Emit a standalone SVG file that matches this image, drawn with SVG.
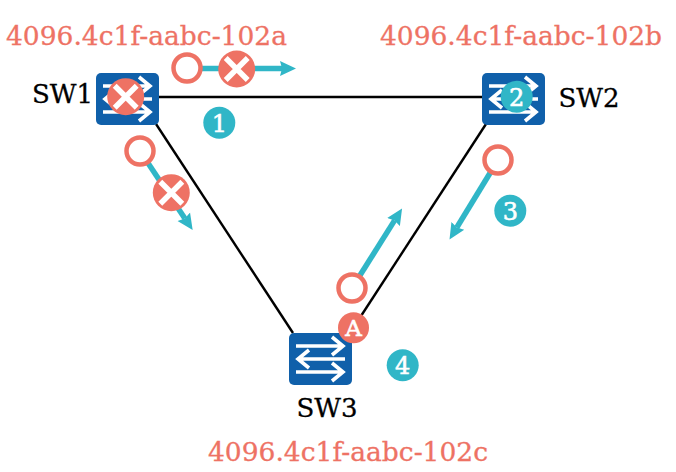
<svg xmlns="http://www.w3.org/2000/svg" width="676" height="472" viewBox="0 0 676 472">
<style>
text{font-family:"DejaVu Serif",serif}
.addr{font-size:26.500px;fill:#ee7264;stroke:#ee7264;stroke-width:.3;text-anchor:middle}
.name{font-size:26px;fill:#000;stroke:#000;stroke-width:.3;text-anchor:middle}
.num{font-size:24px;fill:#fff;stroke:#fff;stroke-width:.6;text-anchor:middle}
.badge{fill:#30b6c7}
.open{fill:#fff;stroke:#ee7264;stroke-width:4.5}
.bad{fill:#ee7264}
.x{stroke:#fff;stroke-width:5.5;stroke-linecap:butt;fill:none}
.link{stroke:#000;stroke-width:2.4;fill:none}
.flow{stroke:#30b6c7;stroke-width:5.500;fill:none}
.w{stroke:#fff;stroke-width:3.600;fill:none}
</style>
<defs>
<marker id="ah" markerUnits="userSpaceOnUse" markerWidth="18" markerHeight="18" refX="2" refY="9" orient="auto"><path d="M0 1.500L16 9L0 16.500L2 9Z" fill="#30b6c7"/></marker>
<g id="sw">
<rect width="63" height="52" rx="5" fill="#1060aa"/>
<path class="w" d="M7 13H53M43 4L54 13L43 22M56 26H10M20 17L9 26L20 35M7 39H53M43 30L54 39L43 48"/>
</g>
<g id="cross"><circle r="18.500" class="bad"/><path class="x" d="M-11 -11L11 11M11 -11L-11 11"/></g>
</defs>
<g id="connectors">
<path class="link" d="M159 97H482"/>
<path class="link" d="M156 124L293 333"/>
<path class="link" d="M486 124L361 316"/>
<path class="flow" d="M187 68.500H282" marker-end="url(#ah)"/>
<path class="flow" d="M140 151L184.900 218.400" marker-end="url(#ah)"/>
<path class="flow" d="M498 160L456.800 227.500" marker-end="url(#ah)"/>
<path class="flow" d="M352 288L394.600 220.400" marker-end="url(#ah)"/>
</g>
<g id="sw1"><use href="#sw" x="96" y="73"/><text class="name" x="62.500" y="103">SW1</text></g>
<g id="sw2"><use href="#sw" x="482" y="73"/><text class="name" x="589" y="107">SW2</text></g>
<g id="sw3"><use href="#sw" x="289" y="333"/><text class="name" x="327" y="417">SW3</text></g>
<g id="addr-a"><text class="addr" x="146.500" y="45">4096.4c1f-aabc-102a</text></g>
<g id="addr-b"><text class="addr" x="521" y="45">4096.4c1f-aabc-102b</text></g>
<g id="addr-c"><text class="addr" x="348" y="461">4096.4c1f-aabc-102c</text></g>
<g id="open-1"><circle class="open" cx="187" cy="68" r="13.500"/></g>
<g id="open-2"><circle class="open" cx="140" cy="151" r="13.500"/></g>
<g id="open-3"><circle class="open" cx="498" cy="160" r="13.500"/></g>
<g id="open-4"><circle class="open" cx="352" cy="288" r="13.500"/></g>
<g id="cross-1"><use href="#cross" x="236.700" y="69"/></g>
<g id="cross-2"><use href="#cross" x="125.700" y="96.700"/></g>
<g id="cross-3"><use href="#cross" x="171.300" y="192.700"/></g>
<g id="badge-1"><circle class="badge" cx="219.300" cy="122.700" r="16"/><text class="num" x="219.300" y="131.500">1</text></g>
<g id="badge-2"><circle class="badge" cx="516.700" cy="96.700" r="16"/><text class="num" x="516.700" y="105.500">2</text></g>
<g id="badge-3"><circle class="badge" cx="510.300" cy="210.700" r="16"/><text class="num" x="510.300" y="219.500">3</text></g>
<g id="badge-4"><circle class="badge" cx="402.700" cy="365.300" r="16"/><text class="num" x="402.700" y="374">4</text></g>
<g id="badge-a"><circle class="bad" cx="353.500" cy="327.700" r="15.500"/><text x="353.500" y="336" font-size="23" stroke="#fff" stroke-width=".6" fill="#fff" text-anchor="middle">A</text></g>
</svg>
